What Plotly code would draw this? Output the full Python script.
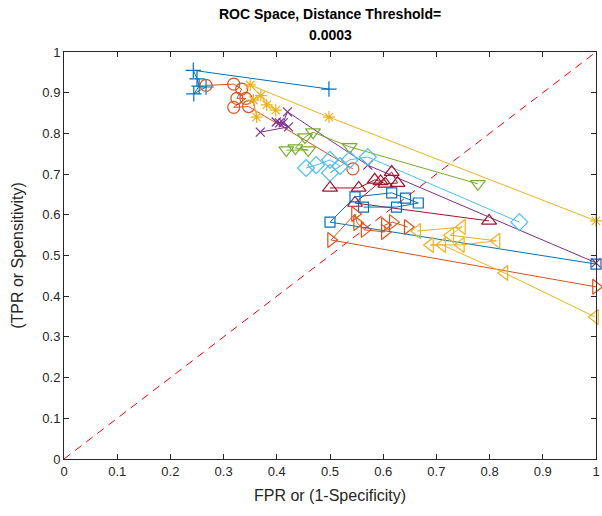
import plotly.graph_objects as go

# ROC operating points (FPR, TPR) for each classifier run, in threshold order
fpr_plus = [0.498, 0.243, 0.250, 0.254, 0.244, 0.267]
tpr_plus = [0.909, 0.955, 0.934, 0.916, 0.897, 0.914]

fpr_circle = [0.267, 0.319, 0.334, 0.325, 0.342, 0.319, 0.347, 0.543]
tpr_circle = [0.918, 0.921, 0.909, 0.886, 0.886, 0.864, 0.866, 0.713]

fpr_star = [0.362, 0.356, 0.370, 0.381, 0.398, 0.350, 0.498, 1.0]
tpr_star = [0.840, 0.882, 0.893, 0.870, 0.857, 0.919, 0.840, 0.585]

fpr_x = [0.369, 0.422, 0.405, 0.399, 0.412, 0.420, 0.571, 1.0]
tpr_x = [0.803, 0.816, 0.826, 0.828, 0.826, 0.853, 0.722, 0.482]

fpr_vdown = [0.418, 0.459, 0.435, 0.453, 0.468, 0.537, 0.778]
tpr_vdown = [0.759, 0.759, 0.764, 0.791, 0.803, 0.767, 0.676]

fpr_diamond = [0.455, 0.474, 0.500, 0.519, 0.500, 0.537, 0.571, 0.856]
tpr_diamond = [0.715, 0.722, 0.735, 0.720, 0.703, 0.735, 0.742, 0.582]

fpr_vup = [0.500, 0.554, 0.584, 0.595, 0.604, 0.627, 0.616, 0.547, 0.799]
tpr_vup = [0.666, 0.666, 0.686, 0.682, 0.676, 0.678, 0.705, 0.629, 0.585]

fpr_square = [0.563, 0.625, 0.666, 0.642, 0.616, 0.547, 0.500, 1.0]
tpr_square = [0.619, 0.619, 0.629, 0.641, 0.654, 0.644, 0.582, 0.479]

fpr_right = [0.646, 0.618, 0.603, 0.603, 0.565, 0.551, 0.547, 0.502, 1.0]
tpr_right = [0.570, 0.582, 0.575, 0.558, 0.563, 0.580, 0.602, 0.538, 0.423]

fpr_left = [0.664, 0.748, 0.726, 0.813, 0.746, 0.688, 0.711, 0.828, 0.998]
tpr_left = [0.560, 0.570, 0.550, 0.536, 0.526, 0.526, 0.526, 0.457, 0.349]

x_ticks = [0, 0.1, 0.2, 0.3, 0.4, 0.5, 0.6, 0.7, 0.8, 0.9, 1]
y_ticks = [0, 0.1, 0.2, 0.3, 0.4, 0.5, 0.6, 0.7, 0.8, 0.9, 1]
tick_text = ["0", "0.1", "0.2", "0.3", "0.4", "0.5", "0.6", "0.7", "0.8", "0.9", "1"]

title_lines = ["ROC Space, Distance Threshold=", "0.0003"]

series = [
    (fpr_plus, tpr_plus, "#0072BD", "cross-thin-open", 11),
    (fpr_circle, tpr_circle, "#D95319", "circle-open", 12),
    (fpr_star, tpr_star, "#EDB120", "asterisk-open", 10),
    (fpr_x, tpr_x, "#7E2F8E", "x-thin-open", 9),
    (fpr_vdown, tpr_vdown, "#77AC30", "triangle-down-open", 13),
    (fpr_diamond, tpr_diamond, "#4DBEEE", "diamond-open", 13),
    (fpr_vup, tpr_vup, "#A2142F", "triangle-up-open", 13),
    (fpr_square, tpr_square, "#0072BD", "square-open", 10),
    (fpr_right, tpr_right, "#D95319", "triangle-right-open", 13),
    (fpr_left, tpr_left, "#EDB120", "triangle-left-open", 13),
]

FONT = "Liberation Sans, Arial"

fig = go.Figure()

# chance line
fig.add_trace(go.Scatter(
    x=[0, 1], y=[0, 1], mode="lines",
    line=dict(color="#FF0000", width=1, dash="8px,6px"),
    showlegend=False, hoverinfo="skip",
))

for fx, ty, col, sym, sz in series:
    fig.add_trace(go.Scatter(
        x=fx, y=ty, mode="lines+markers",
        line=dict(color=col, width=1),
        marker=dict(symbol=sym, size=sz, color=col, line=dict(color=col, width=1.2)),
        showlegend=False, cliponaxis=False,
    ))

axis_common = dict(
    range=[0, 1], showgrid=False, zeroline=False,
    showline=True, linecolor="#262626", linewidth=1, mirror="allticks",
    ticks="inside", ticklen=5, tickwidth=1, tickcolor="#262626",
    tickfont=dict(family=FONT, size=13, color="#262626"),
    tickmode="array", ticktext=tick_text, ticklabeloverflow="allow",
)

# two-line bold title above the axes box
for i, line in enumerate(title_lines):
    fig.add_annotation(
        text="<b>" + line + "</b>", xref="paper", yref="paper",
        x=0.5, y=1, xanchor="center", yanchor="middle",
        yshift=38 - 21 * i, showarrow=False,
        font=dict(family=FONT, size=14, color="black"),
    )

fig.update_layout(
    width=602, height=516,
    margin=dict(l=64, r=2, t=52, b=57),
    paper_bgcolor="white", plot_bgcolor="white",
    xaxis=dict(axis_common, tickvals=x_ticks,
               title=dict(text="FPR or (1-Specificity)", standoff=12,
                          font=dict(family=FONT, size=16, color="#262626"))),
    yaxis=dict(axis_common, tickvals=y_ticks,
               title=dict(text="(TPR or Spensitivity)", standoff=14,
                          font=dict(family=FONT, size=16, color="#262626"))),
)

fig.write_html("out.html")
